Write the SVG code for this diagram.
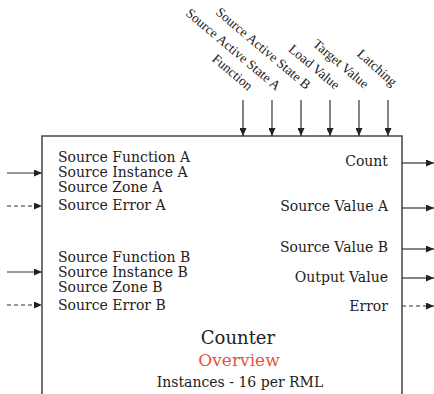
<svg xmlns="http://www.w3.org/2000/svg" width="434" height="394" viewBox="0 0 434 394">
<defs>
<style>
.t{font-family:"DejaVu Serif","Liberation Serif",serif;font-size:14px;fill:#222}
.r{text-anchor:end}
.m{text-anchor:middle}
.v{font-family:"Liberation Serif","DejaVu Serif",serif;font-size:13.5px;fill:#222;text-anchor:end}
.c{stroke:#333;stroke-width:1.2;fill:none;marker-end:url(#ah)}
.d{stroke-dasharray:4 3}
</style>
<marker id="ah" viewBox="0 0 8 7" refX="8" refY="3.5" markerWidth="8" markerHeight="7" markerUnits="userSpaceOnUse" orient="auto">
<path d="M0,0 L8,3.5 L0,7 z" fill="#222"/>
</marker>
</defs>
<rect width="434" height="394" fill="#fff"/>
<g id="counter">
<path d="M42,394 V136 H402 V394" fill="none" stroke="#444" stroke-width="1.5"/>
<text class="t" x="58" y="162">Source Function A</text>
<text class="t" x="58" y="177">Source Instance A</text>
<text class="t" x="58" y="192">Source Zone A</text>
<text class="t" x="58" y="210">Source Error A</text>
<text class="t" x="58" y="262">Source Function B</text>
<text class="t" x="58" y="277">Source Instance B</text>
<text class="t" x="58" y="292">Source Zone B</text>
<text class="t" x="58" y="310">Source Error B</text>
<text class="t r" x="388" y="166">Count</text>
<text class="t r" x="388" y="211">Source Value A</text>
<text class="t r" x="388" y="252">Source Value B</text>
<text class="t r" x="388" y="282">Output Value</text>
<text class="t r" x="388" y="311">Error</text>
<text class="t m" x="238" y="344" style="font-size:18px">Counter</text>
<text class="t m" x="239" y="366" style="font-size:17px;fill:#e8533a">Overview</text>
<text class="t m" x="240" y="387">Instances - 16 per RML</text>
</g>
<g id="input-labels">
<text class="v" transform="translate(248,91) rotate(40)">Function</text>
<text class="v" transform="translate(276,91) rotate(40)">Source Active State A</text>
<text class="v" transform="translate(306,90) rotate(40)">Source Active State B</text>
<text class="v" transform="translate(335,90) rotate(40)">Load Value</text>
<text class="v" transform="translate(364,89) rotate(40)">Target Value</text>
<text class="v" transform="translate(392,87) rotate(42)">Latching</text>
</g>
<g id="connectors">
<line class="c" x1="243" y1="100" x2="243" y2="136"/>
<line class="c" x1="272" y1="100" x2="272" y2="136"/>
<line class="c" x1="301" y1="100" x2="301" y2="136"/>
<line class="c" x1="330" y1="100" x2="330" y2="136"/>
<line class="c" x1="359" y1="100" x2="359" y2="136"/>
<line class="c" x1="388" y1="100" x2="388" y2="136"/>
<line class="c" x1="7" y1="173" x2="42" y2="173"/>
<line class="c d" x1="7" y1="206" x2="42" y2="206"/>
<line class="c" x1="7" y1="272" x2="42" y2="272"/>
<line class="c d" x1="7" y1="305" x2="42" y2="305"/>
<line class="c" x1="402" y1="163" x2="434" y2="163"/>
<line class="c" x1="402" y1="208" x2="434" y2="208"/>
<line class="c" x1="402" y1="249" x2="434" y2="249"/>
<line class="c" x1="402" y1="278" x2="434" y2="278"/>
<line class="c d" x1="402" y1="306" x2="434" y2="306"/>
</g>
</svg>
